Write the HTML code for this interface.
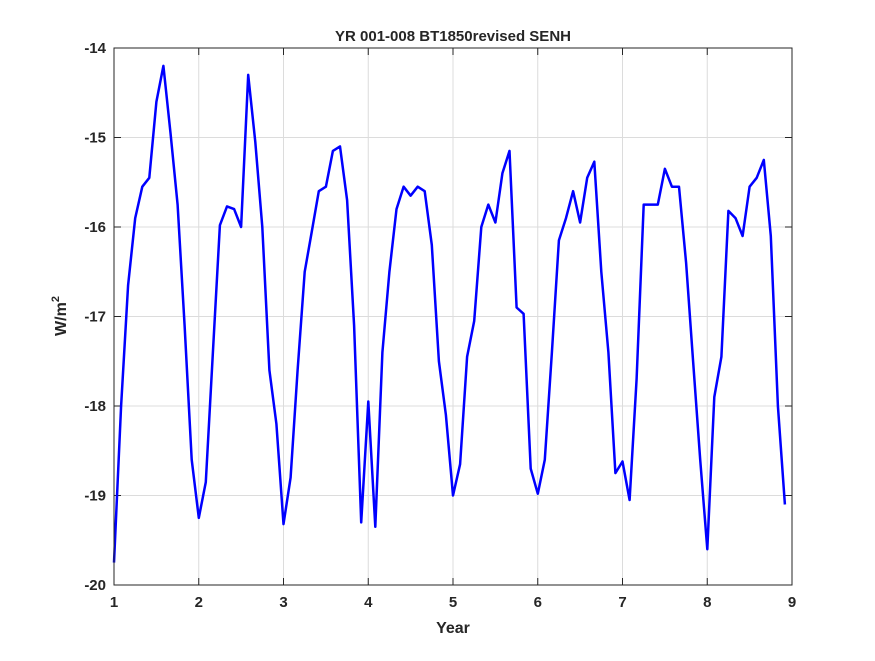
<!DOCTYPE html>
<html><head><meta charset="utf-8"><style>
body{margin:0;background:#fff;}
svg text{font-family:"Liberation Sans",sans-serif;font-weight:bold;fill:#262626;}
</style></head><body>
<svg width="875" height="656" xmlns="http://www.w3.org/2000/svg">
<rect x="0" y="0" width="875" height="656" fill="#fff"/>
<rect x="114" y="48" width="678" height="537" fill="#fff"/>
<g id="grid"></g>
<g id="ticks"></g>
<path id="line" fill="none" stroke="#0000ff" stroke-width="2.5" stroke-linejoin="round"/>
<rect x="114" y="48" width="678" height="537" fill="none" stroke="#262626" stroke-width="1"/>
<text x="453" y="41" text-anchor="middle" font-size="15">YR 001-008 BT1850revised SENH</text>
<text x="453" y="633" text-anchor="middle" font-size="16">Year</text>
<text transform="translate(66,316) rotate(-90)" text-anchor="middle" font-size="16">W/m<tspan font-size="11" dy="-7">2</tspan></text>
</svg>
<script>
const xTicks=[1,2,3,4,5,6,7,8,9];
const yTicks=[-20,-19,-18,-17,-16,-15,-14];
const values=[-19.75,-18.0,-16.65,-15.9,-15.55,-15.45,-14.6,-14.2,-14.95,-15.75,-17.1,-18.6,
-19.25,-18.85,-17.4,-15.98,-15.77,-15.8,-16.0,-14.3,-15.05,-16.0,-17.6,-18.2,
-19.32,-18.8,-17.6,-16.5,-16.05,-15.6,-15.55,-15.15,-15.1,-15.7,-17.1,-19.3,
-17.95,-19.35,-17.4,-16.5,-15.8,-15.55,-15.65,-15.55,-15.6,-16.2,-17.5,-18.1,
-19.0,-18.65,-17.45,-17.05,-16.0,-15.75,-15.95,-15.4,-15.15,-16.9,-16.97,-18.7,
-18.98,-18.6,-17.4,-16.15,-15.9,-15.6,-15.95,-15.45,-15.27,-16.5,-17.4,-18.75,
-18.62,-19.05,-17.7,-15.75,-15.75,-15.75,-15.35,-15.55,-15.55,-16.4,-17.5,-18.6,
-19.6,-17.9,-17.45,-15.82,-15.9,-16.1,-15.55,-15.45,-15.25,-16.1,-18.0,-19.1];
const X=v=>114+(v-1)*(678/8);
const Y=v=>585-(v+20)*(537/6);
const NS="http://www.w3.org/2000/svg";
const grid=document.getElementById('grid'),ticks=document.getElementById('ticks');
function mk(tag,attrs,parent){const e=document.createElementNS(NS,tag);for(const k in attrs)e.setAttribute(k,attrs[k]);parent.appendChild(e);return e;}
xTicks.forEach(t=>{
 const x=X(t);
 const g=mk('line',{x1:x,x2:x,y1:48,y2:585,stroke:'#dcdcdc','stroke-width':1},grid);
 
 
 const a=mk('line',{x1:x,x2:x,y1:585,y2:578,stroke:'#262626'},ticks);
 
 
 const b=mk('line',{x1:x,x2:x,y1:48,y2:55,stroke:'#262626'},ticks);
 
 
 const l=mk('text',{x:x,y:607,'text-anchor':'middle','font-size':15},ticks);
 l.textContent=t;
 
 
});
yTicks.forEach(t=>{
 const y=Y(t);
 const g=mk('line',{x1:114,x2:792,y1:y,y2:y,stroke:'#dcdcdc','stroke-width':1},grid);
 
 
 const a=mk('line',{x1:114,x2:121,y1:y,y2:y,stroke:'#262626'},ticks);
 
 
 const b=mk('line',{x1:785,x2:792,y1:y,y2:y,stroke:'#262626'},ticks);
 
 
 const l=mk('text',{x:106,y:y+5,'text-anchor':'end','font-size':15},ticks);
 l.textContent=t;
 
 
});
document.getElementById('line').setAttribute('d',values.map((v,i)=>(i?'L':'M')+X(1+i/12).toFixed(1)+','+Y(v).toFixed(1)).join(''));
</script>
</body></html>
